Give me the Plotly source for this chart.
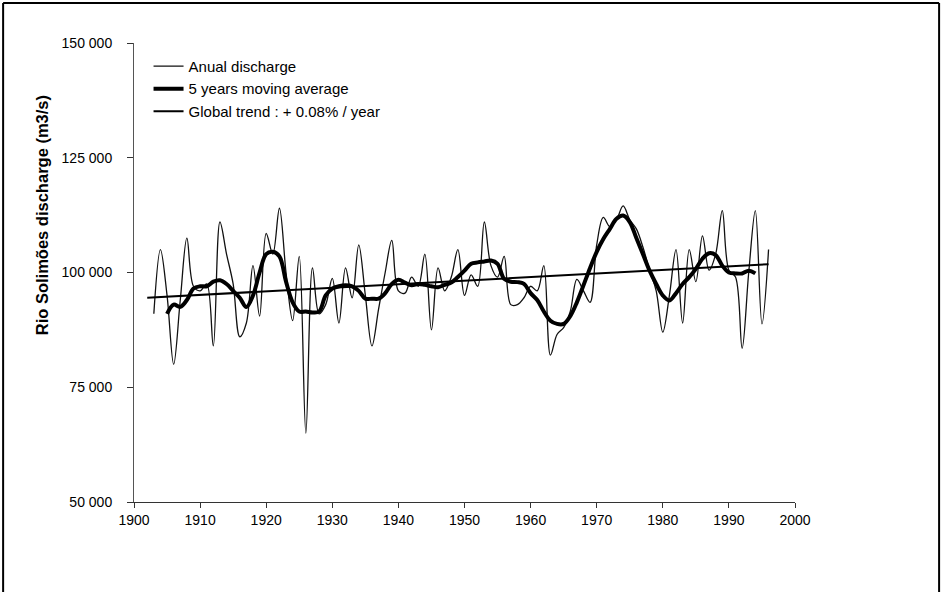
import plotly.graph_objects as go

# ---- data ----
annual_years = list(range(1903, 1997))
annual_discharge = [
    91000, 105000, 95000, 80000, 94000, 107500, 97000, 96000, 97500, 84000,   # 1903-1912
    111000, 104000, 97500, 86000, 89000, 101500, 90500, 108500, 104000, 114000,  # 1913-1922
    100000, 89500, 103500, 65000, 101000, 91000, 93000, 98700, 89000, 101000,  # 1923-1932
    94500, 106000, 95000, 84000, 92000, 100000, 107000, 96000, 95500, 99000,   # 1933-1942
    97000, 104000, 87500, 101000, 96000, 99000, 105000, 95000, 99500, 97000,   # 1943-1952
    111000, 101500, 99000, 103500, 93000, 93000, 94500, 97000, 96000, 101500,  # 1953-1962
    82000, 86500, 88000, 91500, 98500, 96000, 93500, 106000, 112000, 110000,   # 1963-1972
    111500, 114500, 111500, 109500, 105500, 100500, 96000, 87000, 95000, 105000,  # 1973-1982
    89000, 105000, 98000, 108000, 100500, 104000, 113500, 100500, 99000, 83500,  # 1983-1992
    100000, 113500, 88800, 105000,                                             # 1993-1996
]

ma_years = list(range(1905, 1995))
ma_values = [
    91000, 93000, 92500, 94000, 96500, 97000, 97000, 98000, 98300, 97500,      # 1905-1914
    96000, 94500, 92500, 95000, 100000, 104000, 104500, 103500, 98000, 93500,  # 1915-1924
    91500, 91500, 91300, 91500, 95000, 96500, 97000, 97200, 97000, 96000,      # 1925-1934
    94300, 94300, 94300, 95500, 97500, 98400, 97800, 97200, 97500, 97300,      # 1935-1944
    97000, 96800, 97300, 97800, 99000, 100400, 101900, 102200, 102400, 102600, # 1945-1954
    101900, 98600, 98000, 97900, 97500, 95500, 94000, 91500, 89500, 88800,     # 1955-1964
    88800, 90500, 93500, 97200, 101000, 104500, 107300, 109500, 111700, 112400,  # 1965-1974
    111000, 107500, 104000, 100400, 97500, 95000, 93900, 95500, 97500, 99000,  # 1975-1984
    100800, 103000, 104200, 103800, 101500, 100000, 99800, 99800, 100400, 99800,  # 1985-1994
]

trend_years = [1902, 1996]
trend_values = [94500, 101800]

y_tick_values = [50000, 75000, 100000, 125000, 150000]
y_tick_labels = ["50 000", "75 000", "100 000", "125 000", "150 000"]
x_tick_values = list(range(1900, 2001, 10))

# ---- figure ----
fig = go.Figure()
fig.add_trace(go.Scatter(
    x=annual_years, y=annual_discharge, mode="lines", name="Anual discharge",
    line=dict(color="#111111", width=1.3, shape="spline", smoothing=1.0),
))
fig.add_trace(go.Scatter(
    x=ma_years, y=ma_values, mode="lines", name="5 years moving average",
    line=dict(color="#000000", width=4, shape="spline", smoothing=1.0),
))
fig.add_trace(go.Scatter(
    x=trend_years, y=trend_values, mode="lines", name="Global trend : + 0.08% / year",
    line=dict(color="#000000", width=2),
))

font_family = "Liberation Sans, Arial, sans-serif"

fig.update_layout(
    width=942, height=592,
    paper_bgcolor="white", plot_bgcolor="white",
    margin=dict(l=134, r=147, t=43, b=90),
    font=dict(family=font_family, size=14, color="#000000"),
    showlegend=True,
    legend=dict(
        x=0.022, y=0.985, xanchor="left", yanchor="top",
        bgcolor="rgba(0,0,0,0)", borderwidth=0,
        font=dict(family=font_family, size=15, color="#000000"),
        itemwidth=30, tracegroupgap=0,
    ),
    xaxis=dict(
        range=[1900, 2000], tickvals=x_tick_values,
        showgrid=False, zeroline=False,
        showline=True, linecolor="#333333", linewidth=1,
        ticks="outside", ticklen=5, tickcolor="#333333",
        tickfont=dict(size=14), fixedrange=True,
    ),
    yaxis=dict(
        range=[50000, 150000], tickvals=y_tick_values, ticktext=y_tick_labels,
        showgrid=False, zeroline=False,
        showline=True, linecolor="#555555", linewidth=1,
        ticks="outside", ticklen=6, tickcolor="#333333",
        ticklabelstandoff=12,
        tickfont=dict(size=14), fixedrange=True,
    ),
    annotations=[dict(
        text="<b>Rio Solimões discharge (m3/s)</b>",
        xref="paper", yref="paper", x=-0.139, y=0.625,
        xanchor="center", yanchor="middle", textangle=-90,
        showarrow=False, font=dict(family=font_family, size=16.5, color="#000000"),
    )],
    shapes=[
        dict(type="line", xref="paper", yref="paper", x0=-0.198, x1=1.218, y0=1.087, y1=1.087,
             line=dict(color="#000000", width=2)),
        dict(type="line", xref="paper", yref="paper", x0=-0.198, x1=-0.198, y0=1.087, y1=-0.2,
             line=dict(color="#000000", width=2)),
        dict(type="line", xref="paper", yref="paper", x0=1.218, x1=1.218, y0=1.087, y1=-0.2,
             line=dict(color="#000000", width=2)),
    ],
)

fig.write_html("out.html", config={"displayModeBar": False},
               post_script="document.body.style.margin='0px';")
